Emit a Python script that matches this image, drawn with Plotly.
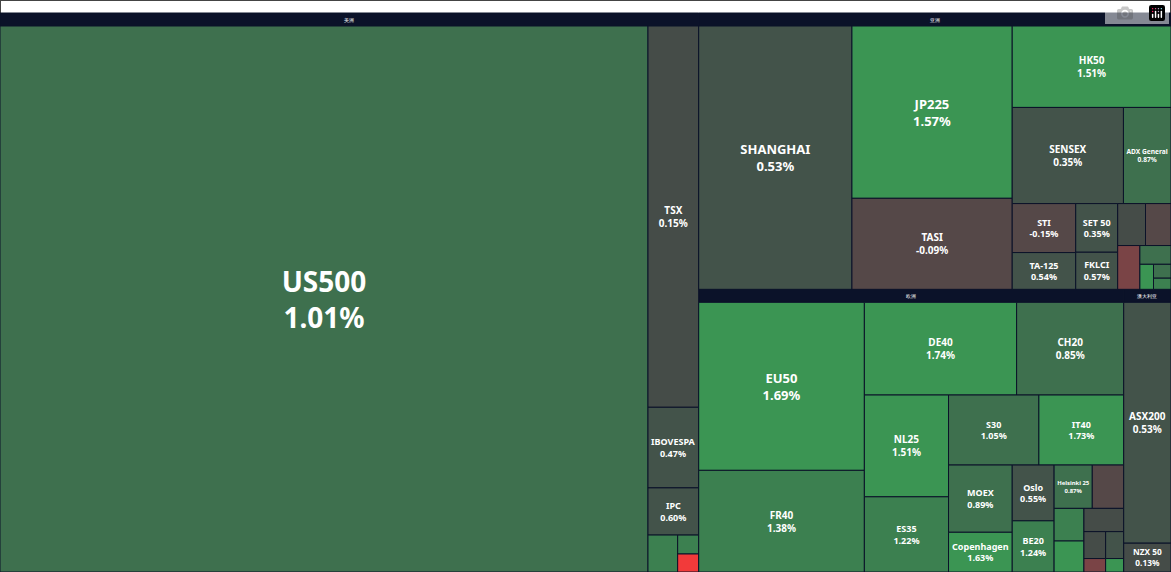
import plotly.graph_objects as go

regions = ["美洲", "亚洲", "欧洲", "澳大利亚"]

am_ids = ["US500", "TSX", "IBOVESPA", "IPC", "am_s1", "am_s2", "am_s3"]
am_labels = ["US500", "TSX", "IBOVESPA", "IPC", "", "", ""]
am_vals = [355000, 19400, 4100, 2400, 1100, 400, 380]
am_pct = [1.01, 0.15, 0.47, 0.60, 1.30, 1.40, -3.00]

as_ids = ["SHANGHAI", "JP225", "TASI", "HK50", "SENSEX", "ADX General", "STI", "SET 50", "TA-125", "FKLCI",
          "as_s1", "as_s2", "as_s3", "as_s4", "as_s5", "as_s6", "as_s7"]
as_labels = ["SHANGHAI", "JP225", "TASI", "HK50", "SENSEX", "ADX General", "STI", "SET 50", "TA-125", "FKLCI",
             "", "", "", "", "", "", ""]
as_vals = [41500, 28400, 15000, 13300, 11000, 4700, 3200, 2100, 2400, 1600,
           1200, 1100, 1000, 600, 350, 250, 200]
as_pct = [0.53, 1.57, -0.09, 1.51, 0.35, 0.87, -0.15, 0.35, 0.54, 0.57,
          0.20, -0.40, -1.20, 0.80, 1.60, 0.70, 1.20]

eu_ids = ["EU50", "FR40", "DE40", "CH20", "NL25", "ES35", "S30", "IT40", "MOEX", "Copenhagen", "Oslo", "BE20",
          "Helsinki 25", "eu_s1", "eu_s2", "eu_s3", "eu_s4", "eu_s5", "eu_s6", "eu_s7", "eu_s8"]
eu_labels = ["EU50", "FR40", "DE40", "CH20", "NL25", "ES35", "S30", "IT40", "MOEX", "Copenhagen", "Oslo", "BE20",
             "Helsinki 25", "", "", "", "", "", "", "", ""]
eu_vals = [28600, 17300, 14500, 10200, 8800, 6500, 6500, 6100, 4400, 2600, 2400, 2200,
           1700, 1000, 1400, 950, 950, 600, 500, 300, 250]
eu_pct = [1.69, 1.38, 1.74, 0.85, 1.51, 1.22, 1.05, 1.73, 0.89, 1.63, 0.55, 1.24,
          0.87, 1.10, -0.30, 1.90, 0.10, 0.20, 0.60, -1.50, 1.80]

au_ids = ["ASX200", "NZX 50"]
au_labels = ["ASX200", "NZX 50"]
au_vals = [11700, 1400]
au_pct = [0.53, 0.13]


def colour(p):
    if p <= -1.0:
        return "#f23a3a" if p <= -2.5 else "#7a4446"
    if p < 0:
        return "#554848"
    if p < 0.3:
        return "#454c48"
    if p < 0.65:
        return "#43534a"
    if p < 1.1:
        return "#3e704e"
    if p < 1.45:
        return "#3c8050"
    return "#3b9553"


def fsize(v):
    if v > 100000:
        return 28
    if v > 20000:
        return 13
    if v > 8000:
        return 10
    return 9


ids, labels, parents, values, colors, texts, sizes = [], [], [], [], [], [], []
for r, (ii, ll, vv, pp) in zip(regions, [(am_ids, am_labels, am_vals, am_pct),
                                          (as_ids, as_labels, as_vals, as_pct),
                                          (eu_ids, eu_labels, eu_vals, eu_pct),
                                          (au_ids, au_labels, au_vals, au_pct)]):
    ids.append(r); labels.append(r); parents.append(""); values.append(sum(vv))
    colors.append("#0b1229"); texts.append(f"<b>{r}</b>"); sizes.append(10)
    for i, l, v, p in zip(ii, ll, vv, pp):
        ids.append(i); labels.append(l); parents.append(r); values.append(v)
        colors.append(colour(p))
        texts.append(f"<b>{l}</b><br><b>{p:.2f}%</b>" if l else "")
        sizes.append(fsize(v))

fig = go.Figure(go.Treemap(
    ids=ids, labels=labels, parents=parents, values=values, branchvalues="total",
    text=texts, texttemplate="%{text}", textposition="middle center",
    textfont=dict(family="Noto Sans", color="white", size=sizes),
    marker=dict(colors=colors, line=dict(color="#0b1229", width=1),
                pad=dict(t=13, l=0, r=0, b=0)),
    tiling=dict(packing="squarify", pad=0),
    pathbar=dict(visible=False), sort=True, hoverinfo="skip",
))
fig.update_layout(width=1171, height=572, margin=dict(l=0, r=0, t=0, b=0),
                  paper_bgcolor="white", uniformtext=dict(minsize=1))
fig.write_html("out.html",
               post_script="document.body.style.margin='0';document.body.style.overflow='hidden';")
